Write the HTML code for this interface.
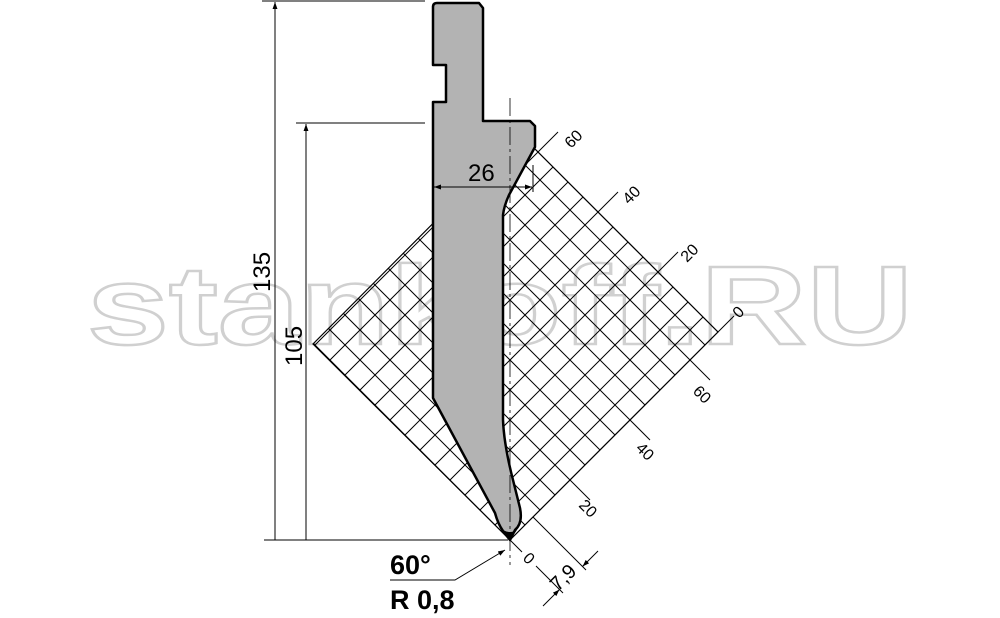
<!DOCTYPE html>
<html><head><meta charset="utf-8"><style>
html,body{margin:0;padding:0;background:#fff;}
svg{display:block;}
text{font-family:"Liberation Sans",sans-serif;}
</style></head><body>
<svg width="1000" height="618" viewBox="0 0 1000 618" xmlns="http://www.w3.org/2000/svg">
<defs>
<clipPath id="dia"><polygon points="510,540 718,332 521,135 313,344"/></clipPath>
<marker id="ar" viewBox="0 0 10 10" refX="10" refY="5" markerWidth="7" markerHeight="7" orient="auto-start-reverse"><path d="M0,1.5 L10,5 L0,8.5z" fill="#000"/></marker>
</defs>
<!-- watermark -->
<text x="87" y="344" font-size="112" font-weight="bold" fill="#fff" stroke="#d0d0d0" stroke-width="2.5" textLength="826" lengthAdjust="spacingAndGlyphs">stankoff.RU</text>
<!-- grid -->
<g clip-path="url(#dia)" stroke="#000" stroke-width="1">
<path d="
M510,540 L110,140 M525,525 L125,125 M540,510 L140,110 M555,495 L155,95 M570,480 L170,80 M585,465 L185,65 M600,450 L200,50 M615,435 L215,35 M630,420 L230,20 M645,405 L245,5 M660,390 L260,-10 M675,375 L275,-25 M690,360 L290,-40 M705,345 L305,-55 M718,332 L318,-68
M510,540 L910,140 M495,525 L895,125 M480,510 L880,110 M465,495 L865,95 M450,480 L850,80 M435,465 L835,65 M420,450 L820,50 M405,435 L805,35 M390,420 L790,20 M375,405 L775,5 M360,390 L760,-10 M345,375 L745,-25 M330,360 L730,-40 M315,345 L715,-55
" fill="none"/>
</g>
<polygon points="510,540 718,332 521,135 313,344" fill="none" stroke="#000" stroke-width="1.2"/>
<g stroke="#000" stroke-width="1">
<line x1="718" y1="332" x2="734" y2="316"/>
<line x1="658" y1="272" x2="678" y2="252"/>
<line x1="598" y1="212" x2="618" y2="192"/>
<line x1="538" y1="152" x2="558" y2="132"/>
<line x1="570" y1="480" x2="590" y2="500"/>
<line x1="630" y1="420" x2="650" y2="440"/>
<line x1="690" y1="360" x2="710" y2="380"/>
</g>
<g font-size="16" fill="#000">
<text transform="translate(571,149) rotate(-45)">60</text>
<text transform="translate(629,205) rotate(-45)">40</text>
<text transform="translate(687,263) rotate(-45)">20</text>
<text transform="translate(739,319) rotate(-45)">0</text>
<text transform="translate(692,392) rotate(45)">60</text>
<text transform="translate(635,449) rotate(45)">40</text>
<text transform="translate(578,506) rotate(45)">20</text>
<text transform="translate(522,559) rotate(45)">0</text>
</g>
<!-- 7.9 dimension -->
<g stroke="#000" stroke-width="1" fill="none">
<line x1="510" y1="540" x2="522" y2="552"/>
<line x1="536" y1="566" x2="563" y2="593"/>
<line x1="533" y1="517" x2="586" y2="570"/>
<line x1="543" y1="606" x2="559.5" y2="589.5" marker-end="url(#ar)"/>
<line x1="598" y1="551" x2="582.5" y2="566.5" marker-end="url(#ar)"/>
</g>
<text transform="translate(558,592) rotate(-45)" font-size="20">7,9</text>
<!-- tool -->
<path d="M433,7 Q433,3 437,3 L479,3 L483,8 L483,121 L530,121 L535,126 L535,147 L509,195 Q504,206 503,215 L503,420 Q504,445 513,480 L520,508 Q523,523 515,530 L510,540 L503,531 Q498,524 495,513 L433,398 L433,102 L446,102 L446,65 L433,65 Z" fill="#b3b3b3" stroke="#000" stroke-width="2.5" stroke-linejoin="round"/>
<path d="M503,530 L510,540 L517,530 Q510,534 503,530z" fill="#000"/>
<line x1="510" y1="98" x2="510" y2="565" stroke="#000" stroke-width="0.8" stroke-dasharray="18,4,3,4"/>
<!-- dimensions -->
<g stroke="#000" stroke-width="1" fill="none">
<line x1="262" y1="1" x2="425" y2="1"/>
<line x1="296" y1="123" x2="425" y2="123"/>
<line x1="264" y1="540" x2="508" y2="540"/>
<line x1="275" y1="540" x2="275" y2="2" marker-end="url(#ar)"/>
<line x1="306" y1="540" x2="306" y2="124" marker-end="url(#ar)"/>
<line x1="434" y1="187" x2="532" y2="187" marker-start="url(#ar)" marker-end="url(#ar)"/>
<line x1="533" y1="165" x2="533" y2="192"/>
<polyline points="390,580 455,580 505,550" marker-end="url(#ar)"/>
</g>
<text transform="translate(270,292) rotate(-90)" font-size="24">135</text>
<text transform="translate(302,366) rotate(-90)" font-size="24">105</text>
<text x="468" y="181" font-size="24">26</text>
<text x="390" y="574" font-size="27" font-weight="bold">60°</text>
<text x="390" y="609" font-size="27" font-weight="bold">R 0,8</text>
</svg>
</body></html>
